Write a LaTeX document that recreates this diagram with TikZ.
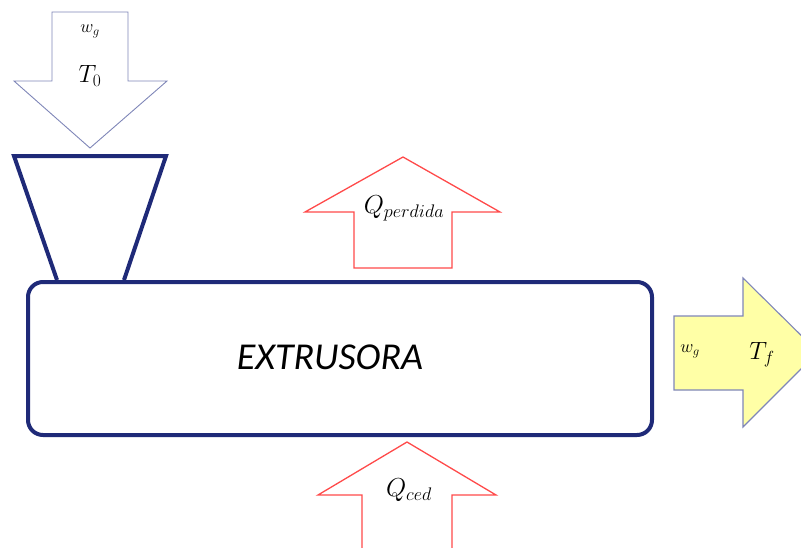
\RequirePackage{fix-cm}
\documentclass[tikz,border=0pt]{standalone}
\usepackage{fontspec}
\setsansfont{Carlito}
\begin{document}
\begin{tikzpicture}[x=1pt,y=-1pt,
  machine/.style={draw=navy,line width=4pt},
  inarrow/.style={draw=arrowgray,line width=0.9pt,fill=white},
  heatarrow/.style={draw=heatred,line width=1.3pt,fill=white},
  outarrow/.style={draw=arrowgray,line width=1.1pt,fill=paleyellow},
  lbl/.style={inner sep=0pt}]
\definecolor{navy}{HTML}{1F2A78}
\definecolor{arrowgray}{HTML}{7F86B8}
\definecolor{heatred}{HTML}{FF4A4A}
\definecolor{paleyellow}{HTML}{FFFFA6}
\useasboundingbox (0,0) rectangle (801,547);
\begin{scope}
\clip (0,0) rectangle (801,547);
% feed arrow (top)
\draw[inarrow] (52,12) -- (128,12) -- (128,81) -- (167,81) -- (90,148) -- (14,81) -- (52,81) -- cycle;
% hopper
\draw[machine,line join=miter] (124,280) -- (166,156) -- (14,156) -- (57,280);
% extruder body
\draw[machine,rounded corners=15pt] (28,282) rectangle (652,435);
% heat lost arrow
\draw[heatarrow] (354,268) -- (354,212) -- (305,212) -- (403,157) -- (500,212) -- (452,212) -- (452,268) -- cycle;
% heat supplied arrow
\draw[heatarrow] (362,560) -- (362,495) -- (318,495) -- (407,442) -- (496,495) -- (452,495) -- (452,560);
% output arrow
\draw[outarrow] (674,316) -- (743,316) -- (743,278) -- (818,352) -- (743,427) -- (743,390) -- (674,390) -- cycle;
\end{scope}
% labels
\node[lbl] (wg1) at (90,31) {\fontsize{18}{18}\selectfont $w_g$};
\node[lbl] (t0) at (90,76) {\fontsize{25}{25}\selectfont $T_0$};
\node[lbl] (ext) at (330,357) {\fontsize{38}{38}\selectfont\sffamily\itshape EXTRUSORA};
\node[lbl] (qp) at (404,208) {\fontsize{26}{26}\selectfont $Q_{perdida}$};
\node[lbl] (qc) at (409,490) {\fontsize{26}{26}\selectfont $Q_{ced}$};
\node[lbl] (wg2) at (690,351) {\fontsize{18}{18}\selectfont $w_g$};
\node[lbl] (tf) at (762,355) {\fontsize{25}{25}\selectfont $T_f$};
\end{tikzpicture}
\end{document}
